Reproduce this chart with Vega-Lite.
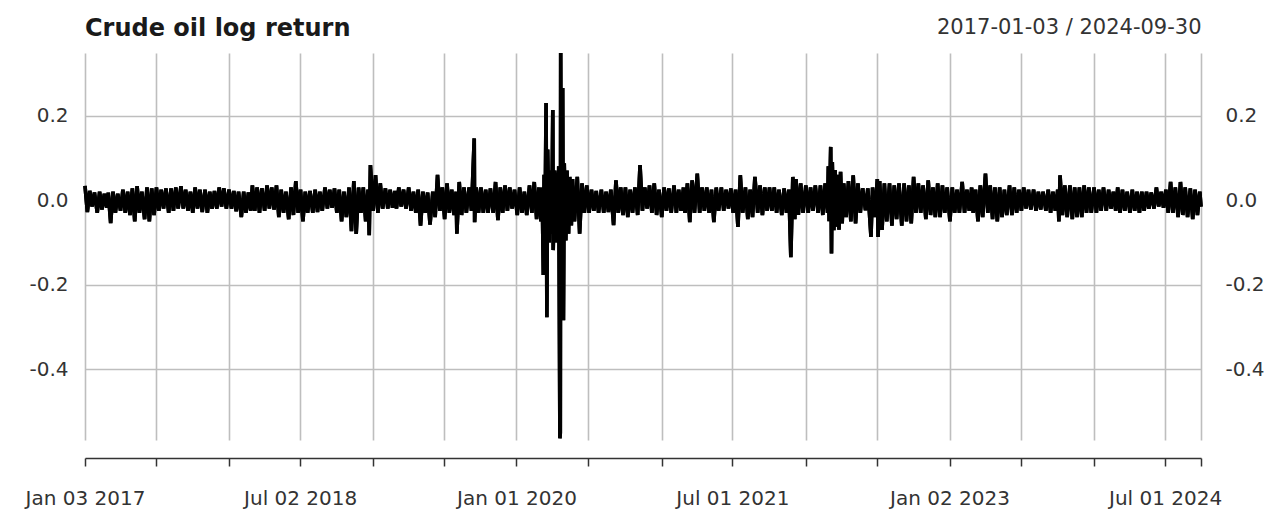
{
  "$schema": "https://vega.github.io/schema/vega-lite/v6.json",
  "width": 1116,
  "height": 387,
  "autosize": "none",
  "padding": {"left": 85, "top": 53, "right": 70, "bottom": 70},
  "background": "white",
  "title": {"text": "Crude oil log return", "anchor": "start", "frame": "group", "font": "DejaVu Sans", "fontSize": 24, "fontWeight": "bold", "color": "#1a1a1a", "baseline": "alphabetic", "offset": -44},
  "config": {
    "view": {"stroke": null},
    "axis": {"labelFont": "DejaVu Sans", "labelFontSize": 20, "labelColor": "#333333", "titleFont": "DejaVu Sans", "titleFontWeight": "normal", "gridColor": "#bebebe", "gridWidth": 1.6, "gridOpacity": 1, "labelFlush": false, "labelOverlap": false}
  },
  "datasets": {
    "oil": [
      {"date": "2017-01-03", "ret": 0.034}, {"date": "2017-01-09", "ret": -0.028}, {"date": "2017-01-15", "ret": 0.022}, {"date": "2017-01-21", "ret": -0.015}, {"date": "2017-01-27", "ret": 0.018},
      {"date": "2017-02-03", "ret": -0.03}, {"date": "2017-02-09", "ret": 0.02}, {"date": "2017-02-15", "ret": -0.022}, {"date": "2017-02-21", "ret": 0.015}, {"date": "2017-02-27", "ret": -0.018},
      {"date": "2017-03-03", "ret": 0.018}, {"date": "2017-03-09", "ret": -0.054}, {"date": "2017-03-15", "ret": 0.02}, {"date": "2017-03-21", "ret": -0.03}, {"date": "2017-03-27", "ret": 0.015},
      {"date": "2017-04-03", "ret": -0.025}, {"date": "2017-04-09", "ret": 0.025}, {"date": "2017-04-15", "ret": -0.03}, {"date": "2017-04-21", "ret": 0.02}, {"date": "2017-04-27", "ret": -0.035},
      {"date": "2017-05-03", "ret": 0.028}, {"date": "2017-05-09", "ret": -0.05}, {"date": "2017-05-15", "ret": 0.033}, {"date": "2017-05-21", "ret": -0.03}, {"date": "2017-05-27", "ret": 0.02},
      {"date": "2017-06-03", "ret": -0.045}, {"date": "2017-06-09", "ret": 0.03}, {"date": "2017-06-15", "ret": -0.05}, {"date": "2017-06-21", "ret": 0.028}, {"date": "2017-06-27", "ret": -0.035},
      {"date": "2017-07-03", "ret": 0.03}, {"date": "2017-07-09", "ret": -0.025}, {"date": "2017-07-15", "ret": 0.025}, {"date": "2017-07-21", "ret": -0.02}, {"date": "2017-07-27", "ret": 0.028},
      {"date": "2017-08-03", "ret": -0.03}, {"date": "2017-08-09", "ret": 0.028}, {"date": "2017-08-15", "ret": -0.025}, {"date": "2017-08-21", "ret": 0.03}, {"date": "2017-08-27", "ret": -0.02},
      {"date": "2017-09-03", "ret": 0.033}, {"date": "2017-09-09", "ret": -0.02}, {"date": "2017-09-15", "ret": 0.025}, {"date": "2017-09-21", "ret": -0.025}, {"date": "2017-09-27", "ret": 0.02},
      {"date": "2017-10-03", "ret": -0.03}, {"date": "2017-10-09", "ret": 0.03}, {"date": "2017-10-15", "ret": -0.02}, {"date": "2017-10-21", "ret": 0.025}, {"date": "2017-10-27", "ret": -0.028},
      {"date": "2017-11-03", "ret": 0.025}, {"date": "2017-11-09", "ret": -0.03}, {"date": "2017-11-15", "ret": 0.02}, {"date": "2017-11-21", "ret": -0.02}, {"date": "2017-11-27", "ret": 0.022},
      {"date": "2017-12-03", "ret": -0.02}, {"date": "2017-12-09", "ret": 0.03}, {"date": "2017-12-15", "ret": -0.015}, {"date": "2017-12-21", "ret": 0.028}, {"date": "2017-12-27", "ret": -0.02},
      {"date": "2018-01-03", "ret": 0.025}, {"date": "2018-01-09", "ret": -0.02}, {"date": "2018-01-15", "ret": 0.022}, {"date": "2018-01-21", "ret": -0.026}, {"date": "2018-01-27", "ret": 0.02},
      {"date": "2018-02-03", "ret": -0.04}, {"date": "2018-02-09", "ret": 0.02}, {"date": "2018-02-15", "ret": -0.03}, {"date": "2018-02-21", "ret": 0.018}, {"date": "2018-02-27", "ret": -0.025},
      {"date": "2018-03-03", "ret": 0.035}, {"date": "2018-03-09", "ret": -0.025}, {"date": "2018-03-15", "ret": 0.03}, {"date": "2018-03-21", "ret": -0.03}, {"date": "2018-03-27", "ret": 0.028},
      {"date": "2018-04-03", "ret": -0.025}, {"date": "2018-04-09", "ret": 0.035}, {"date": "2018-04-15", "ret": -0.02}, {"date": "2018-04-21", "ret": 0.03}, {"date": "2018-04-27", "ret": -0.022},
      {"date": "2018-05-03", "ret": 0.035}, {"date": "2018-05-09", "ret": -0.04}, {"date": "2018-05-15", "ret": 0.025}, {"date": "2018-05-21", "ret": -0.03}, {"date": "2018-05-27", "ret": 0.02},
      {"date": "2018-06-03", "ret": -0.045}, {"date": "2018-06-09", "ret": 0.03}, {"date": "2018-06-15", "ret": -0.035}, {"date": "2018-06-21", "ret": 0.045}, {"date": "2018-06-27", "ret": -0.03},
      {"date": "2018-07-03", "ret": 0.025}, {"date": "2018-07-09", "ret": -0.05}, {"date": "2018-07-15", "ret": 0.02}, {"date": "2018-07-21", "ret": -0.03}, {"date": "2018-07-27", "ret": 0.022},
      {"date": "2018-08-03", "ret": -0.03}, {"date": "2018-08-09", "ret": 0.025}, {"date": "2018-08-15", "ret": -0.028}, {"date": "2018-08-21", "ret": 0.02}, {"date": "2018-08-27", "ret": -0.025},
      {"date": "2018-09-03", "ret": 0.03}, {"date": "2018-09-09", "ret": -0.02}, {"date": "2018-09-15", "ret": 0.025}, {"date": "2018-09-21", "ret": -0.018}, {"date": "2018-09-27", "ret": 0.028},
      {"date": "2018-10-03", "ret": -0.03}, {"date": "2018-10-09", "ret": 0.025}, {"date": "2018-10-15", "ret": -0.05}, {"date": "2018-10-21", "ret": 0.02}, {"date": "2018-10-27", "ret": -0.04},
      {"date": "2018-11-03", "ret": 0.03}, {"date": "2018-11-09", "ret": -0.073}, {"date": "2018-11-15", "ret": 0.045}, {"date": "2018-11-21", "ret": -0.08}, {"date": "2018-11-27", "ret": 0.03},
      {"date": "2018-12-03", "ret": -0.03}, {"date": "2018-12-09", "ret": 0.03}, {"date": "2018-12-15", "ret": -0.05}, {"date": "2018-12-21", "ret": 0.025}, {"date": "2018-12-24", "ret": -0.083}, {"date": "2018-12-27", "ret": 0.083},
      {"date": "2019-01-03", "ret": -0.025}, {"date": "2019-01-09", "ret": 0.059}, {"date": "2019-01-15", "ret": -0.03}, {"date": "2019-01-21", "ret": 0.04}, {"date": "2019-01-27", "ret": -0.02},
      {"date": "2019-02-03", "ret": 0.028}, {"date": "2019-02-09", "ret": -0.02}, {"date": "2019-02-15", "ret": 0.025}, {"date": "2019-02-21", "ret": -0.018}, {"date": "2019-02-27", "ret": 0.022},
      {"date": "2019-03-03", "ret": -0.02}, {"date": "2019-03-09", "ret": 0.03}, {"date": "2019-03-15", "ret": -0.015}, {"date": "2019-03-21", "ret": 0.025}, {"date": "2019-03-27", "ret": -0.02},
      {"date": "2019-04-03", "ret": 0.03}, {"date": "2019-04-09", "ret": -0.025}, {"date": "2019-04-15", "ret": 0.02}, {"date": "2019-04-21", "ret": -0.03}, {"date": "2019-04-27", "ret": 0.025},
      {"date": "2019-05-03", "ret": -0.06}, {"date": "2019-05-09", "ret": 0.02}, {"date": "2019-05-15", "ret": -0.03}, {"date": "2019-05-21", "ret": 0.018}, {"date": "2019-05-27", "ret": -0.058},
      {"date": "2019-06-03", "ret": 0.02}, {"date": "2019-06-09", "ret": -0.04}, {"date": "2019-06-15", "ret": 0.06}, {"date": "2019-06-21", "ret": -0.025}, {"date": "2019-06-27", "ret": 0.03},
      {"date": "2019-07-03", "ret": -0.045}, {"date": "2019-07-09", "ret": 0.04}, {"date": "2019-07-15", "ret": -0.03}, {"date": "2019-07-21", "ret": 0.025}, {"date": "2019-07-27", "ret": -0.035},
      {"date": "2019-08-01", "ret": 0.02}, {"date": "2019-08-03", "ret": -0.079}, {"date": "2019-08-09", "ret": 0.043}, {"date": "2019-08-15", "ret": -0.035}, {"date": "2019-08-21", "ret": 0.03}, {"date": "2019-08-27", "ret": -0.03},
      {"date": "2019-09-03", "ret": 0.03}, {"date": "2019-09-09", "ret": -0.025}, {"date": "2019-09-16", "ret": 0.146}, {"date": "2019-09-17", "ret": -0.052}, {"date": "2019-09-21", "ret": 0.03}, {"date": "2019-09-27", "ret": -0.03},
      {"date": "2019-10-03", "ret": 0.03}, {"date": "2019-10-09", "ret": -0.03}, {"date": "2019-10-15", "ret": 0.025}, {"date": "2019-10-21", "ret": -0.03}, {"date": "2019-10-27", "ret": 0.028},
      {"date": "2019-11-03", "ret": -0.03}, {"date": "2019-11-09", "ret": 0.043}, {"date": "2019-11-15", "ret": -0.047}, {"date": "2019-11-21", "ret": 0.03}, {"date": "2019-11-27", "ret": -0.03},
      {"date": "2019-12-03", "ret": 0.035}, {"date": "2019-12-09", "ret": -0.025}, {"date": "2019-12-15", "ret": 0.03}, {"date": "2019-12-21", "ret": -0.02}, {"date": "2019-12-27", "ret": 0.025},
      {"date": "2020-01-03", "ret": -0.035}, {"date": "2020-01-09", "ret": 0.03}, {"date": "2020-01-15", "ret": -0.03}, {"date": "2020-01-21", "ret": 0.02}, {"date": "2020-01-27", "ret": -0.035},
      {"date": "2020-02-03", "ret": 0.035}, {"date": "2020-02-09", "ret": -0.03}, {"date": "2020-02-15", "ret": 0.043}, {"date": "2020-02-21", "ret": -0.045}, {"date": "2020-02-27", "ret": 0.03},
      {"date": "2020-03-03", "ret": -0.05}, {"date": "2020-03-06", "ret": 0.03}, {"date": "2020-03-09", "ret": -0.177}, {"date": "2020-03-11", "ret": 0.06}, {"date": "2020-03-13", "ret": -0.09}, {"date": "2020-03-16", "ret": 0.23}, {"date": "2020-03-18", "ret": -0.277}, {"date": "2020-03-20", "ret": 0.12}, {"date": "2020-03-24", "ret": -0.1}, {"date": "2020-03-26", "ret": 0.07}, {"date": "2020-03-30", "ret": -0.08},
      {"date": "2020-04-02", "ret": 0.213}, {"date": "2020-04-03", "ret": -0.118}, {"date": "2020-04-07", "ret": 0.07}, {"date": "2020-04-09", "ret": -0.1}, {"date": "2020-04-14", "ret": 0.065}, {"date": "2020-04-16", "ret": -0.09}, {"date": "2020-04-17", "ret": 0.08}, {"date": "2020-04-20", "ret": -0.563}, {"date": "2020-04-21", "ret": -0.55}, {"date": "2020-04-22", "ret": 0.348}, {"date": "2020-04-24", "ret": -0.25}, {"date": "2020-04-27", "ret": 0.265}, {"date": "2020-04-29", "ret": -0.284},
      {"date": "2020-05-01", "ret": 0.087}, {"date": "2020-05-05", "ret": -0.095}, {"date": "2020-05-08", "ret": 0.07}, {"date": "2020-05-12", "ret": -0.079}, {"date": "2020-05-15", "ret": 0.055}, {"date": "2020-05-19", "ret": -0.06}, {"date": "2020-05-22", "ret": 0.05}, {"date": "2020-05-27", "ret": -0.05},
      {"date": "2020-06-03", "ret": 0.055}, {"date": "2020-06-09", "ret": -0.079}, {"date": "2020-06-15", "ret": 0.04}, {"date": "2020-06-21", "ret": -0.03}, {"date": "2020-06-27", "ret": 0.035},
      {"date": "2020-07-03", "ret": -0.03}, {"date": "2020-07-09", "ret": 0.025}, {"date": "2020-07-15", "ret": -0.025}, {"date": "2020-07-21", "ret": 0.022}, {"date": "2020-07-27", "ret": -0.03},
      {"date": "2020-08-03", "ret": 0.025}, {"date": "2020-08-09", "ret": -0.03}, {"date": "2020-08-15", "ret": 0.02}, {"date": "2020-08-21", "ret": -0.028}, {"date": "2020-08-27", "ret": 0.025},
      {"date": "2020-09-03", "ret": -0.059}, {"date": "2020-09-09", "ret": 0.047}, {"date": "2020-09-15", "ret": -0.03}, {"date": "2020-09-21", "ret": 0.03}, {"date": "2020-09-27", "ret": -0.035},
      {"date": "2020-10-03", "ret": 0.03}, {"date": "2020-10-09", "ret": -0.04}, {"date": "2020-10-15", "ret": 0.025}, {"date": "2020-10-21", "ret": -0.03}, {"date": "2020-10-27", "ret": 0.03},
      {"date": "2020-11-03", "ret": -0.035}, {"date": "2020-11-09", "ret": 0.083}, {"date": "2020-11-15", "ret": -0.025}, {"date": "2020-11-21", "ret": 0.03}, {"date": "2020-11-27", "ret": -0.02},
      {"date": "2020-12-03", "ret": 0.035}, {"date": "2020-12-09", "ret": -0.03}, {"date": "2020-12-15", "ret": 0.04}, {"date": "2020-12-21", "ret": -0.035}, {"date": "2020-12-27", "ret": 0.025},
      {"date": "2021-01-03", "ret": -0.04}, {"date": "2021-01-09", "ret": 0.03}, {"date": "2021-01-15", "ret": -0.025}, {"date": "2021-01-21", "ret": 0.028}, {"date": "2021-01-27", "ret": -0.03},
      {"date": "2021-02-03", "ret": 0.035}, {"date": "2021-02-09", "ret": -0.03}, {"date": "2021-02-15", "ret": 0.025}, {"date": "2021-02-21", "ret": -0.025}, {"date": "2021-02-27", "ret": 0.03},
      {"date": "2021-03-03", "ret": -0.03}, {"date": "2021-03-09", "ret": 0.04}, {"date": "2021-03-15", "ret": -0.052}, {"date": "2021-03-21", "ret": 0.047}, {"date": "2021-03-27", "ret": -0.03},
      {"date": "2021-04-03", "ret": 0.063}, {"date": "2021-04-09", "ret": -0.03}, {"date": "2021-04-15", "ret": 0.03}, {"date": "2021-04-21", "ret": -0.025}, {"date": "2021-04-27", "ret": 0.03},
      {"date": "2021-05-03", "ret": -0.03}, {"date": "2021-05-09", "ret": 0.025}, {"date": "2021-05-15", "ret": -0.052}, {"date": "2021-05-21", "ret": 0.03}, {"date": "2021-05-27", "ret": -0.025},
      {"date": "2021-06-03", "ret": 0.03}, {"date": "2021-06-09", "ret": -0.025}, {"date": "2021-06-15", "ret": 0.025}, {"date": "2021-06-21", "ret": -0.02}, {"date": "2021-06-27", "ret": 0.028},
      {"date": "2021-07-03", "ret": -0.03}, {"date": "2021-07-09", "ret": 0.025}, {"date": "2021-07-15", "ret": -0.063}, {"date": "2021-07-21", "ret": 0.059}, {"date": "2021-07-27", "ret": -0.03},
      {"date": "2021-08-03", "ret": 0.03}, {"date": "2021-08-09", "ret": -0.045}, {"date": "2021-08-15", "ret": 0.025}, {"date": "2021-08-21", "ret": -0.04}, {"date": "2021-08-27", "ret": 0.055},
      {"date": "2021-09-03", "ret": -0.03}, {"date": "2021-09-09", "ret": 0.035}, {"date": "2021-09-15", "ret": -0.035}, {"date": "2021-09-21", "ret": 0.03}, {"date": "2021-09-27", "ret": -0.025},
      {"date": "2021-10-03", "ret": 0.03}, {"date": "2021-10-09", "ret": -0.025}, {"date": "2021-10-15", "ret": 0.03}, {"date": "2021-10-21", "ret": -0.03}, {"date": "2021-10-27", "ret": 0.025},
      {"date": "2021-11-03", "ret": -0.035}, {"date": "2021-11-09", "ret": 0.028}, {"date": "2021-11-15", "ret": -0.03}, {"date": "2021-11-21", "ret": 0.025}, {"date": "2021-11-26", "ret": -0.135},
      {"date": "2021-12-01", "ret": 0.055}, {"date": "2021-12-06", "ret": -0.045}, {"date": "2021-12-09", "ret": 0.05}, {"date": "2021-12-15", "ret": -0.035}, {"date": "2021-12-21", "ret": 0.04}, {"date": "2021-12-27", "ret": -0.03},
      {"date": "2022-01-03", "ret": 0.035}, {"date": "2022-01-09", "ret": -0.03}, {"date": "2022-01-15", "ret": 0.03}, {"date": "2022-01-21", "ret": -0.025}, {"date": "2022-01-27", "ret": 0.035},
      {"date": "2022-02-03", "ret": -0.03}, {"date": "2022-02-09", "ret": 0.035}, {"date": "2022-02-15", "ret": -0.035}, {"date": "2022-02-21", "ret": 0.04}, {"date": "2022-02-27", "ret": -0.03},
      {"date": "2022-03-01", "ret": 0.08}, {"date": "2022-03-03", "ret": -0.05}, {"date": "2022-03-07", "ret": 0.126}, {"date": "2022-03-09", "ret": -0.126}, {"date": "2022-03-11", "ret": 0.09}, {"date": "2022-03-15", "ret": -0.071}, {"date": "2022-03-18", "ret": 0.071}, {"date": "2022-03-21", "ret": -0.063}, {"date": "2022-03-24", "ret": 0.06}, {"date": "2022-03-28", "ret": -0.07},
      {"date": "2022-04-01", "ret": 0.067}, {"date": "2022-04-05", "ret": -0.055}, {"date": "2022-04-09", "ret": 0.04}, {"date": "2022-04-15", "ret": -0.04}, {"date": "2022-04-21", "ret": 0.045}, {"date": "2022-04-27", "ret": -0.05},
      {"date": "2022-05-03", "ret": 0.059}, {"date": "2022-05-09", "ret": -0.055}, {"date": "2022-05-15", "ret": 0.04}, {"date": "2022-05-21", "ret": -0.03}, {"date": "2022-05-27", "ret": 0.028},
      {"date": "2022-06-03", "ret": -0.024}, {"date": "2022-06-09", "ret": 0.028}, {"date": "2022-06-17", "ret": -0.087}, {"date": "2022-06-21", "ret": 0.03}, {"date": "2022-06-27", "ret": -0.04},
      {"date": "2022-07-03", "ret": 0.05}, {"date": "2022-07-05", "ret": -0.087}, {"date": "2022-07-09", "ret": 0.045}, {"date": "2022-07-15", "ret": -0.07}, {"date": "2022-07-21", "ret": 0.04}, {"date": "2022-07-27", "ret": -0.05},
      {"date": "2022-08-03", "ret": 0.04}, {"date": "2022-08-09", "ret": -0.06}, {"date": "2022-08-15", "ret": 0.035}, {"date": "2022-08-21", "ret": -0.045}, {"date": "2022-08-27", "ret": 0.04},
      {"date": "2022-09-03", "ret": -0.06}, {"date": "2022-09-09", "ret": 0.04}, {"date": "2022-09-15", "ret": -0.05}, {"date": "2022-09-21", "ret": 0.035}, {"date": "2022-09-27", "ret": -0.055},
      {"date": "2022-10-03", "ret": 0.055}, {"date": "2022-10-09", "ret": -0.03}, {"date": "2022-10-15", "ret": 0.04}, {"date": "2022-10-21", "ret": -0.03}, {"date": "2022-10-27", "ret": 0.035},
      {"date": "2022-11-03", "ret": -0.045}, {"date": "2022-11-09", "ret": 0.047}, {"date": "2022-11-15", "ret": -0.035}, {"date": "2022-11-21", "ret": 0.03}, {"date": "2022-11-27", "ret": -0.04},
      {"date": "2022-12-03", "ret": 0.04}, {"date": "2022-12-09", "ret": -0.04}, {"date": "2022-12-15", "ret": 0.035}, {"date": "2022-12-21", "ret": -0.03}, {"date": "2022-12-27", "ret": 0.03},
      {"date": "2023-01-03", "ret": -0.05}, {"date": "2023-01-09", "ret": 0.03}, {"date": "2023-01-15", "ret": -0.03}, {"date": "2023-01-21", "ret": 0.025}, {"date": "2023-01-27", "ret": -0.03},
      {"date": "2023-02-03", "ret": 0.043}, {"date": "2023-02-09", "ret": -0.03}, {"date": "2023-02-15", "ret": 0.025}, {"date": "2023-02-21", "ret": -0.025}, {"date": "2023-02-27", "ret": 0.03},
      {"date": "2023-03-03", "ret": -0.03}, {"date": "2023-03-09", "ret": 0.025}, {"date": "2023-03-15", "ret": -0.05}, {"date": "2023-03-21", "ret": 0.035}, {"date": "2023-03-27", "ret": -0.04},
      {"date": "2023-04-03", "ret": 0.063}, {"date": "2023-04-09", "ret": -0.03}, {"date": "2023-04-15", "ret": 0.035}, {"date": "2023-04-21", "ret": -0.045}, {"date": "2023-04-27", "ret": 0.03},
      {"date": "2023-05-03", "ret": -0.05}, {"date": "2023-05-09", "ret": 0.03}, {"date": "2023-05-15", "ret": -0.04}, {"date": "2023-05-21", "ret": 0.025}, {"date": "2023-05-27", "ret": -0.035},
      {"date": "2023-06-03", "ret": 0.035}, {"date": "2023-06-09", "ret": -0.035}, {"date": "2023-06-15", "ret": 0.03}, {"date": "2023-06-21", "ret": -0.03}, {"date": "2023-06-27", "ret": 0.025},
      {"date": "2023-07-03", "ret": -0.025}, {"date": "2023-07-09", "ret": 0.03}, {"date": "2023-07-15", "ret": -0.02}, {"date": "2023-07-21", "ret": 0.025}, {"date": "2023-07-27", "ret": -0.022},
      {"date": "2023-08-03", "ret": 0.025}, {"date": "2023-08-09", "ret": -0.025}, {"date": "2023-08-15", "ret": 0.02}, {"date": "2023-08-21", "ret": -0.022}, {"date": "2023-08-27", "ret": 0.02},
      {"date": "2023-09-03", "ret": -0.025}, {"date": "2023-09-09", "ret": 0.025}, {"date": "2023-09-15", "ret": -0.03}, {"date": "2023-09-21", "ret": 0.02}, {"date": "2023-09-27", "ret": -0.025},
      {"date": "2023-10-03", "ret": 0.025}, {"date": "2023-10-06", "ret": -0.05}, {"date": "2023-10-09", "ret": 0.059}, {"date": "2023-10-15", "ret": -0.035}, {"date": "2023-10-21", "ret": 0.035}, {"date": "2023-10-27", "ret": -0.04},
      {"date": "2023-11-03", "ret": 0.035}, {"date": "2023-11-09", "ret": -0.045}, {"date": "2023-11-15", "ret": 0.03}, {"date": "2023-11-21", "ret": -0.04}, {"date": "2023-11-27", "ret": 0.03},
      {"date": "2023-12-03", "ret": -0.04}, {"date": "2023-12-09", "ret": 0.035}, {"date": "2023-12-15", "ret": -0.03}, {"date": "2023-12-21", "ret": 0.03}, {"date": "2023-12-27", "ret": -0.03},
      {"date": "2024-01-03", "ret": 0.03}, {"date": "2024-01-09", "ret": -0.03}, {"date": "2024-01-15", "ret": 0.025}, {"date": "2024-01-21", "ret": -0.025}, {"date": "2024-01-27", "ret": 0.03},
      {"date": "2024-02-03", "ret": -0.025}, {"date": "2024-02-09", "ret": 0.025}, {"date": "2024-02-15", "ret": -0.02}, {"date": "2024-02-21", "ret": 0.02}, {"date": "2024-02-27", "ret": -0.025},
      {"date": "2024-03-03", "ret": 0.03}, {"date": "2024-03-09", "ret": -0.03}, {"date": "2024-03-15", "ret": 0.025}, {"date": "2024-03-21", "ret": -0.025}, {"date": "2024-03-27", "ret": 0.02},
      {"date": "2024-04-03", "ret": -0.03}, {"date": "2024-04-09", "ret": 0.025}, {"date": "2024-04-15", "ret": -0.025}, {"date": "2024-04-21", "ret": 0.02}, {"date": "2024-04-27", "ret": -0.03},
      {"date": "2024-05-03", "ret": 0.02}, {"date": "2024-05-09", "ret": -0.025}, {"date": "2024-05-15", "ret": 0.02}, {"date": "2024-05-21", "ret": -0.02}, {"date": "2024-05-27", "ret": 0.018},
      {"date": "2024-06-03", "ret": -0.02}, {"date": "2024-06-09", "ret": 0.03}, {"date": "2024-06-15", "ret": -0.015}, {"date": "2024-06-21", "ret": 0.02}, {"date": "2024-06-27", "ret": -0.018},
      {"date": "2024-07-03", "ret": 0.025}, {"date": "2024-07-09", "ret": -0.03}, {"date": "2024-07-15", "ret": 0.043}, {"date": "2024-07-21", "ret": -0.03}, {"date": "2024-07-27", "ret": 0.03},
      {"date": "2024-08-03", "ret": -0.04}, {"date": "2024-08-09", "ret": 0.043}, {"date": "2024-08-15", "ret": -0.035}, {"date": "2024-08-21", "ret": 0.03}, {"date": "2024-08-27", "ret": -0.04},
      {"date": "2024-09-03", "ret": 0.028}, {"date": "2024-09-09", "ret": -0.045}, {"date": "2024-09-15", "ret": 0.025}, {"date": "2024-09-21", "ret": -0.035}, {"date": "2024-09-27", "ret": 0.02}, {"date": "2024-09-30", "ret": -0.015}
    ]
  },
  "data": {"name": "oil"},
  "resolve": {"axis": {"x": "independent", "y": "independent"}},
  "layer": [
    {
      "mark": {"type": "line", "color": "#000000", "strokeWidth": 3.6, "strokeJoin": "bevel", "strokeCap": "butt"},
      "encoding": {
        "x": {"field": "date", "type": "temporal",
          "scale": {"type": "utc", "domain": [{"year": 2017, "month": 1, "date": 3, "utc": true}, {"year": 2024, "month": 9, "date": 30, "utc": true}], "nice": false},
          "axis": {"orient": "top", "grid": true, "labels": false, "ticks": false, "domain": false,
            "values": [{"year": 2017, "month": 1, "date": 3, "utc": true}, {"year": 2017, "month": 7, "date": 3, "utc": true}, {"year": 2018, "month": 1, "date": 2, "utc": true}, {"year": 2018, "month": 7, "date": 2, "utc": true}, {"year": 2019, "month": 1, "date": 2, "utc": true}, {"year": 2019, "month": 7, "date": 1, "utc": true}, {"year": 2020, "month": 1, "date": 1, "utc": true}, {"year": 2020, "month": 7, "date": 1, "utc": true}, {"year": 2021, "month": 1, "date": 4, "utc": true}, {"year": 2021, "month": 7, "date": 1, "utc": true}, {"year": 2022, "month": 1, "date": 3, "utc": true}, {"year": 2022, "month": 7, "date": 1, "utc": true}, {"year": 2023, "month": 1, "date": 2, "utc": true}, {"year": 2023, "month": 7, "date": 3, "utc": true}, {"year": 2024, "month": 1, "date": 2, "utc": true}, {"year": 2024, "month": 7, "date": 1, "utc": true}, {"year": 2024, "month": 9, "date": 30, "utc": true}],
            "title": "2017-01-03 / 2024-09-30", "titleAnchor": "end", "titleFontSize": 21, "titleColor": "#333333", "titlePadding": 20, "titleBaseline": "alphabetic"}
        },
        "y": {"field": "ret", "type": "quantitative",
          "scale": {"domain": [-0.567, 0.348], "nice": false, "zero": false},
          "axis": {"orient": "left", "values": [-0.4, -0.2, 0, 0.2], "grid": true, "domain": false, "ticks": false, "tickSize": 0, "labelPadding": 17, "title": null,
            "labelExpr": "datum.value < 0 ? '-' + format(-datum.value, '.1f') : format(datum.value, '.1f')"}
        }
      }
    },
    {
      "mark": {"type": "line", "color": "#000000", "strokeWidth": 3.6, "strokeJoin": "bevel", "strokeCap": "butt"},
      "encoding": {
        "x": {"field": "date", "type": "temporal",
          "axis": {"orient": "bottom", "grid": false, "offset": 18, "domainColor": "#333333", "domainWidth": 1.5, "tickColor": "#333333", "tickWidth": 1.5, "tickSize": 8, "labelPadding": 22, "title": null,
            "values": [{"year": 2017, "month": 1, "date": 3, "utc": true}, {"year": 2017, "month": 7, "date": 3, "utc": true}, {"year": 2018, "month": 1, "date": 2, "utc": true}, {"year": 2018, "month": 7, "date": 2, "utc": true}, {"year": 2019, "month": 1, "date": 2, "utc": true}, {"year": 2019, "month": 7, "date": 1, "utc": true}, {"year": 2020, "month": 1, "date": 1, "utc": true}, {"year": 2020, "month": 7, "date": 1, "utc": true}, {"year": 2021, "month": 1, "date": 4, "utc": true}, {"year": 2021, "month": 7, "date": 1, "utc": true}, {"year": 2022, "month": 1, "date": 3, "utc": true}, {"year": 2022, "month": 7, "date": 1, "utc": true}, {"year": 2023, "month": 1, "date": 2, "utc": true}, {"year": 2023, "month": 7, "date": 3, "utc": true}, {"year": 2024, "month": 1, "date": 2, "utc": true}, {"year": 2024, "month": 7, "date": 1, "utc": true}, {"year": 2024, "month": 9, "date": 30, "utc": true}],
            "labelExpr": "indexof(['2017-01-03','2018-07-02','2020-01-01','2021-07-01','2023-01-02','2024-07-01'], utcFormat(datum.value, '%Y-%m-%d')) >= 0 ? utcFormat(datum.value, '%b %d %Y') : ''"}
        },
        "y": {"field": "ret", "type": "quantitative",
          "axis": {"orient": "right", "values": [-0.4, -0.2, 0, 0.2], "grid": false, "domain": false, "ticks": false, "tickSize": 0, "labelPadding": 24, "title": null,
            "labelExpr": "datum.value < 0 ? '-' + format(-datum.value, '.1f') : format(datum.value, '.1f')"}
        }
      }
    }
  ]
}
